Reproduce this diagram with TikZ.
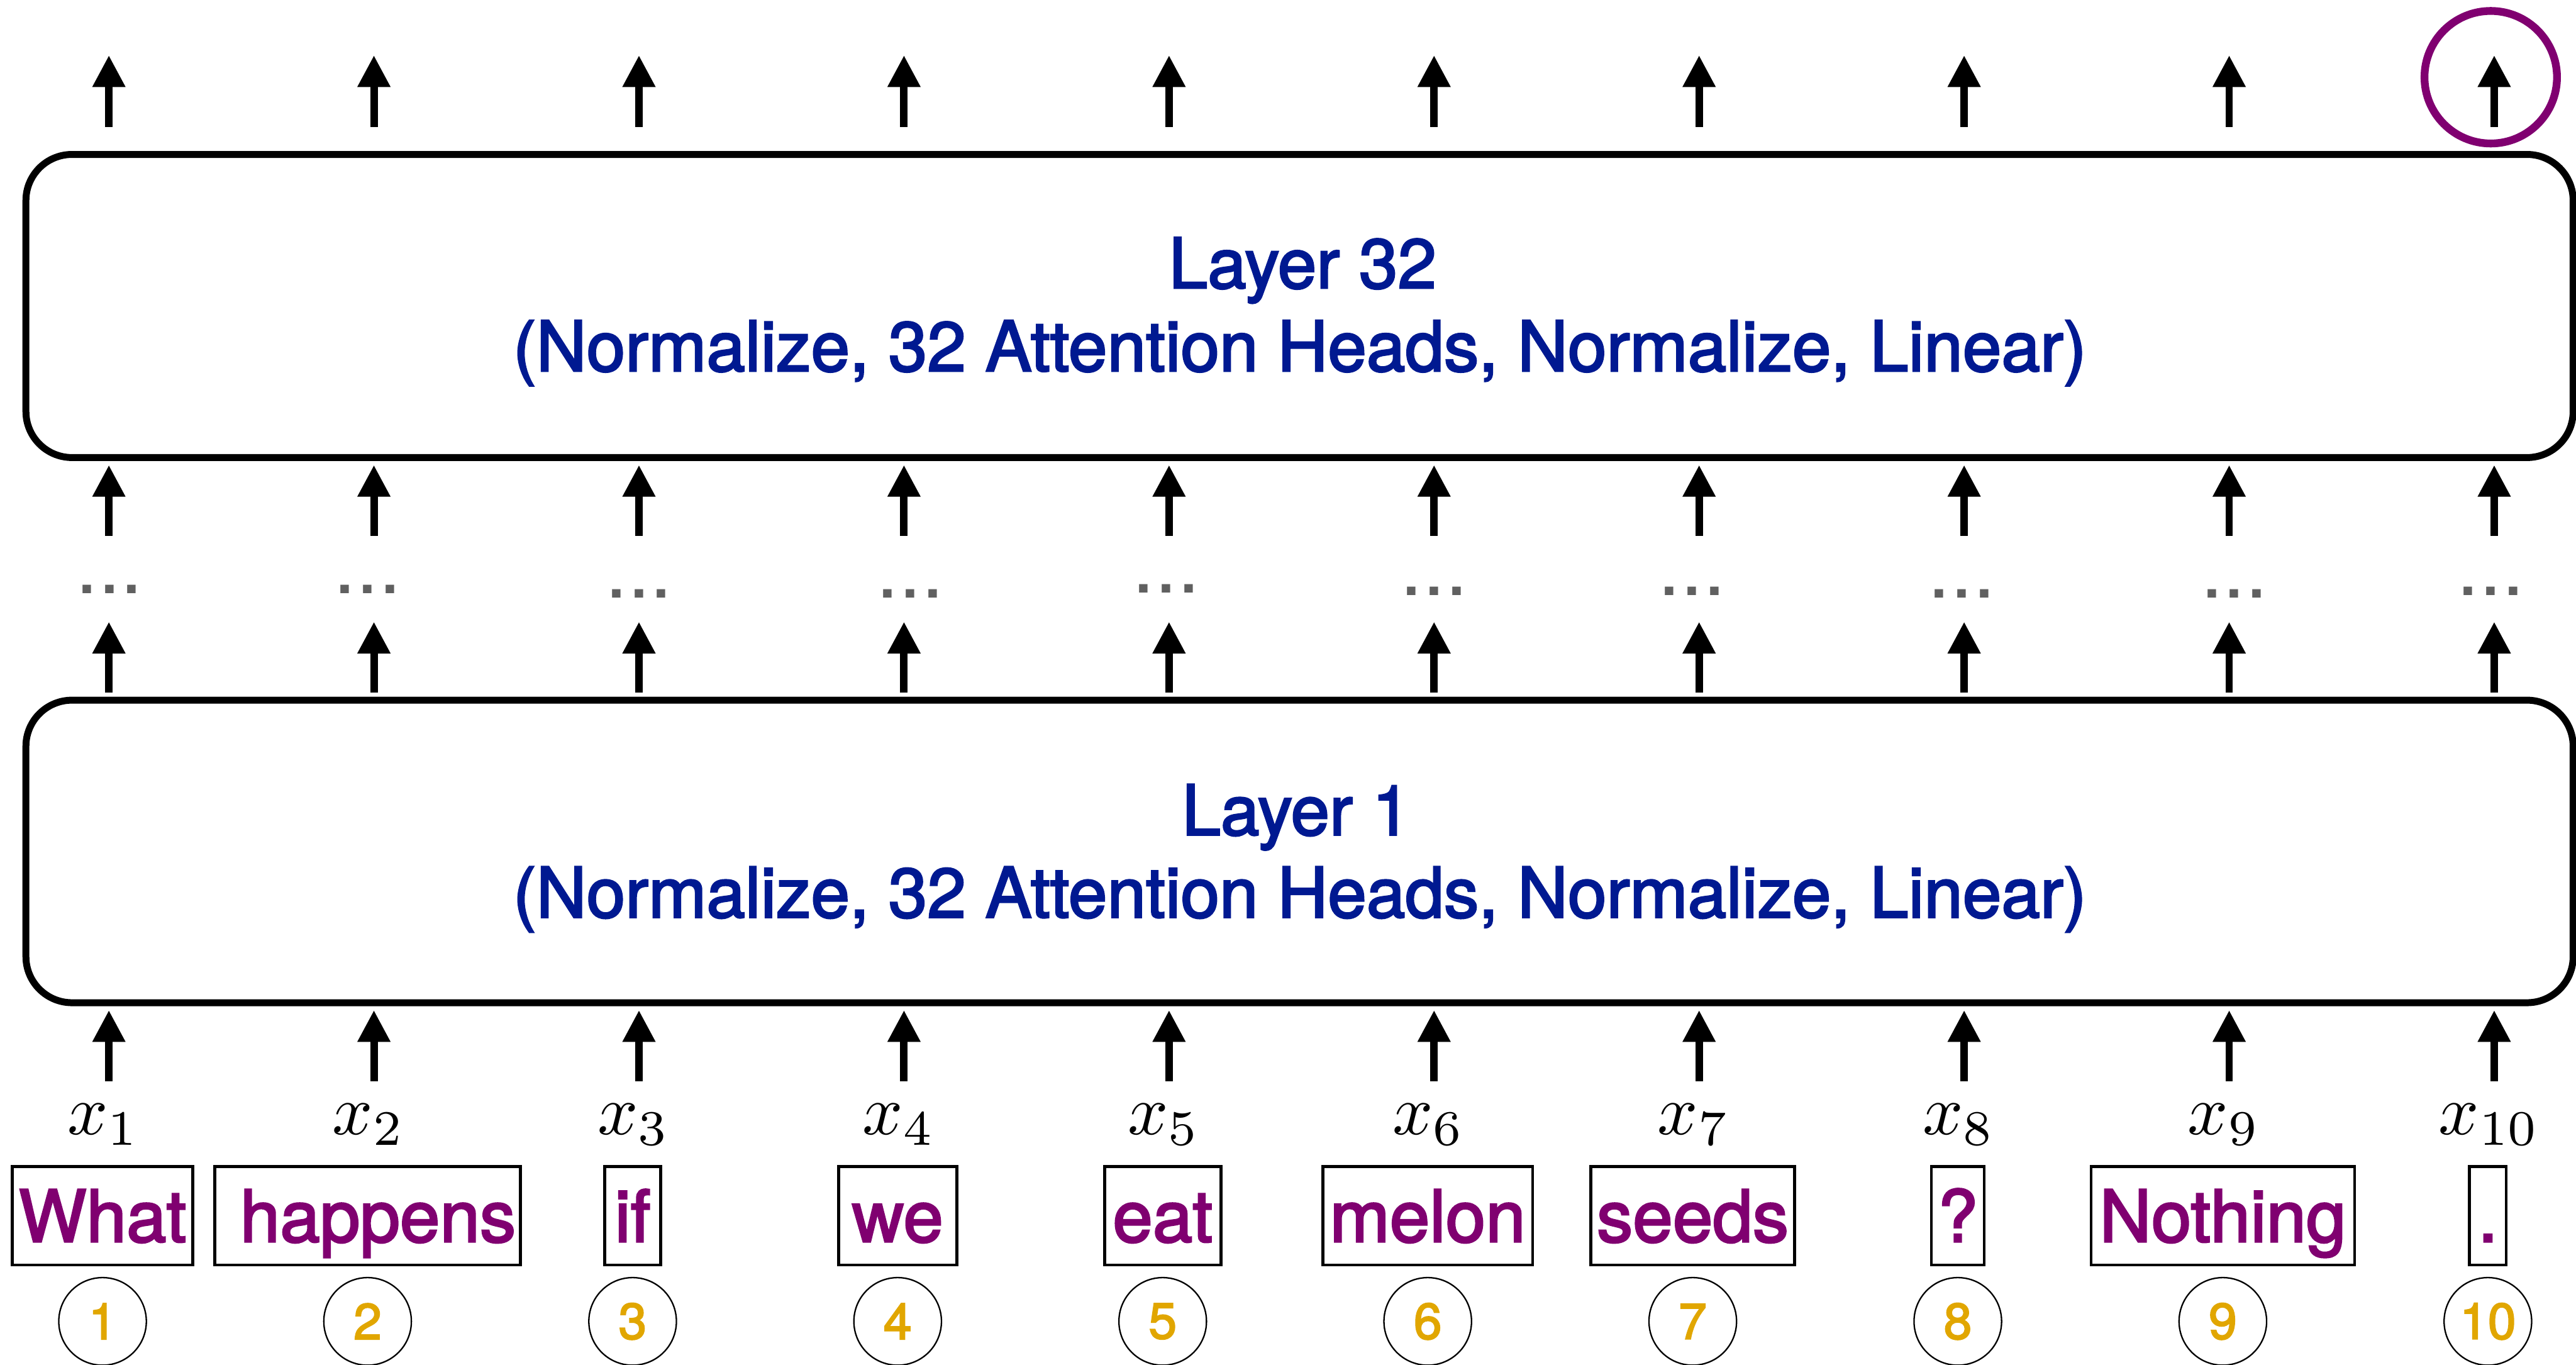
\documentclass[tikz,border=0pt]{standalone}
\usepackage{fontspec}
\newfontfamily\heros{TeX Gyre Heros}[UprightFeatures={FakeBold=2.5}]
\newfontfamily\herosplain{TeX Gyre Heros}
\usetikzlibrary{arrows.meta,calc}
\definecolor{layerblue}{RGB}{0,25,145}
\definecolor{tokpurple}{RGB}{128,0,112}
\definecolor{idxgold}{RGB}{225,166,0}
\definecolor{dotgray}{RGB}{96,96,96}

\begin{document}
\begin{tikzpicture}[
  layerbox/.style={draw, line width=0.12cm, rounded corners=0.8cm, inner sep=0pt, outer sep=0pt, minimum width=44.21cm},
  layertext/.style={anchor=base, inner sep=0pt, text=layerblue, font=\heros\fontsize{34.4}{40}\selectfont},
  flow/.style={line width=0.13cm, -{Triangle[length=0.55cm,width=0.54cm]}},
  token/.style={draw, line width=0.05cm, anchor=base, inner xsep=0pt, inner ysep=0pt,
    text height=1.31cm, text depth=0.40cm, text=tokpurple, font=\heros\fontsize{35.5}{40}\selectfont},
  idx/.style={draw, circle, line width=0.025cm, minimum size=1.52cm, inner sep=0pt,
    text=idxgold, font=\heros\fontsize{25}{28}\selectfont},
  xlab/.style={anchor=base, inner sep=0pt},
  ellip/.style={anchor=base, inner sep=0pt, text=dotgray, font=\herosplain\fontsize{40}{48}\selectfont},
  pick/.style={circle, draw=tokpurple, line width=0.135cm, minimum size=2.30cm, inner sep=0pt},
]
\useasboundingbox (0,0) rectangle (44.71,-23.68);

% the two transformer layers
\node[layerbox, minimum height=5.26cm] (L32) at (22.555,-5.31) {};
\node[layerbox, minimum height=5.25cm] (L1)  at (22.555,-14.775) {};

\node[layertext] (L32a) at (22.61,-5.00) {Layer 32};
\node[layertext] (L32b) at (22.56,-6.44) {(Normalize, 32 Attention Heads, Normalize, Linear)};
\node[layertext] (L1a)  at (22.50,-14.49) {Layer 1};
\node[layertext] (L1b)  at (22.56,-15.92) {(Normalize, 32 Attention Heads, Normalize, Linear)};

% per-token columns: input symbol, word, position index, and the arrows
\foreach \i/\word/\w in {1/What/3.13, 2/\hspace*{0.36cm}happens/5.31, 3/if/0.97, 4/we/2.05,
    5/eat/2.02, 6/melon/3.64, 7/seeds/3.54, 8/?/0.92, 9/Nothing/4.57, 10/./0.64} {
  \pgfmathsetmacro\cx{1.89+4.6*(\i-1)}
  \coordinate (in\i)  at (\cx,-18.76);
  \coordinate (up\i)  at (\cx,-10.79);
  \coordinate (dn\i)  at (\cx,-9.30);
  \coordinate (out\i) at (\cx,-0.96);
  \node[xlab]  (x\i)   at (\cx-0.09,-19.69) {\scalebox{3.5}{$x_{\i}$}};
  \node[token, minimum width=\w cm] (tok\i) at (\cx-0.11,-21.55) {\word};
  \node[idx]   (n\i)   at (\cx-0.11,-22.93) {\i};
  \draw[flow, shorten >=0.13cm] (in\i) -- (in\i |- L1.south);
  \draw[flow, shorten <=0.13cm] (up\i |- L1.north) -- (up\i);
  \draw[flow, shorten >=0.13cm] (dn\i) -- (dn\i |- L32.south);
  \draw[flow, shorten <=0.48cm] (out\i |- L32.north) -- (out\i);
}

% elided layers in between
\foreach \i/\dx/\dy in {1/1.90/10.30, 2/6.38/10.30, 3/11.09/10.37, 4/15.80/10.37, 5/20.24/10.29,
    6/24.89/10.33, 7/29.37/10.33, 8/34.05/10.37, 9/38.78/10.37, 10/43.23/10.33} {
  \node[ellip] (dots\i) at (\dx,-\dy) {...};
}

% the predicted next token
\node[pick] (next) at (43.23,-1.34) {};
\end{tikzpicture}
\end{document}
